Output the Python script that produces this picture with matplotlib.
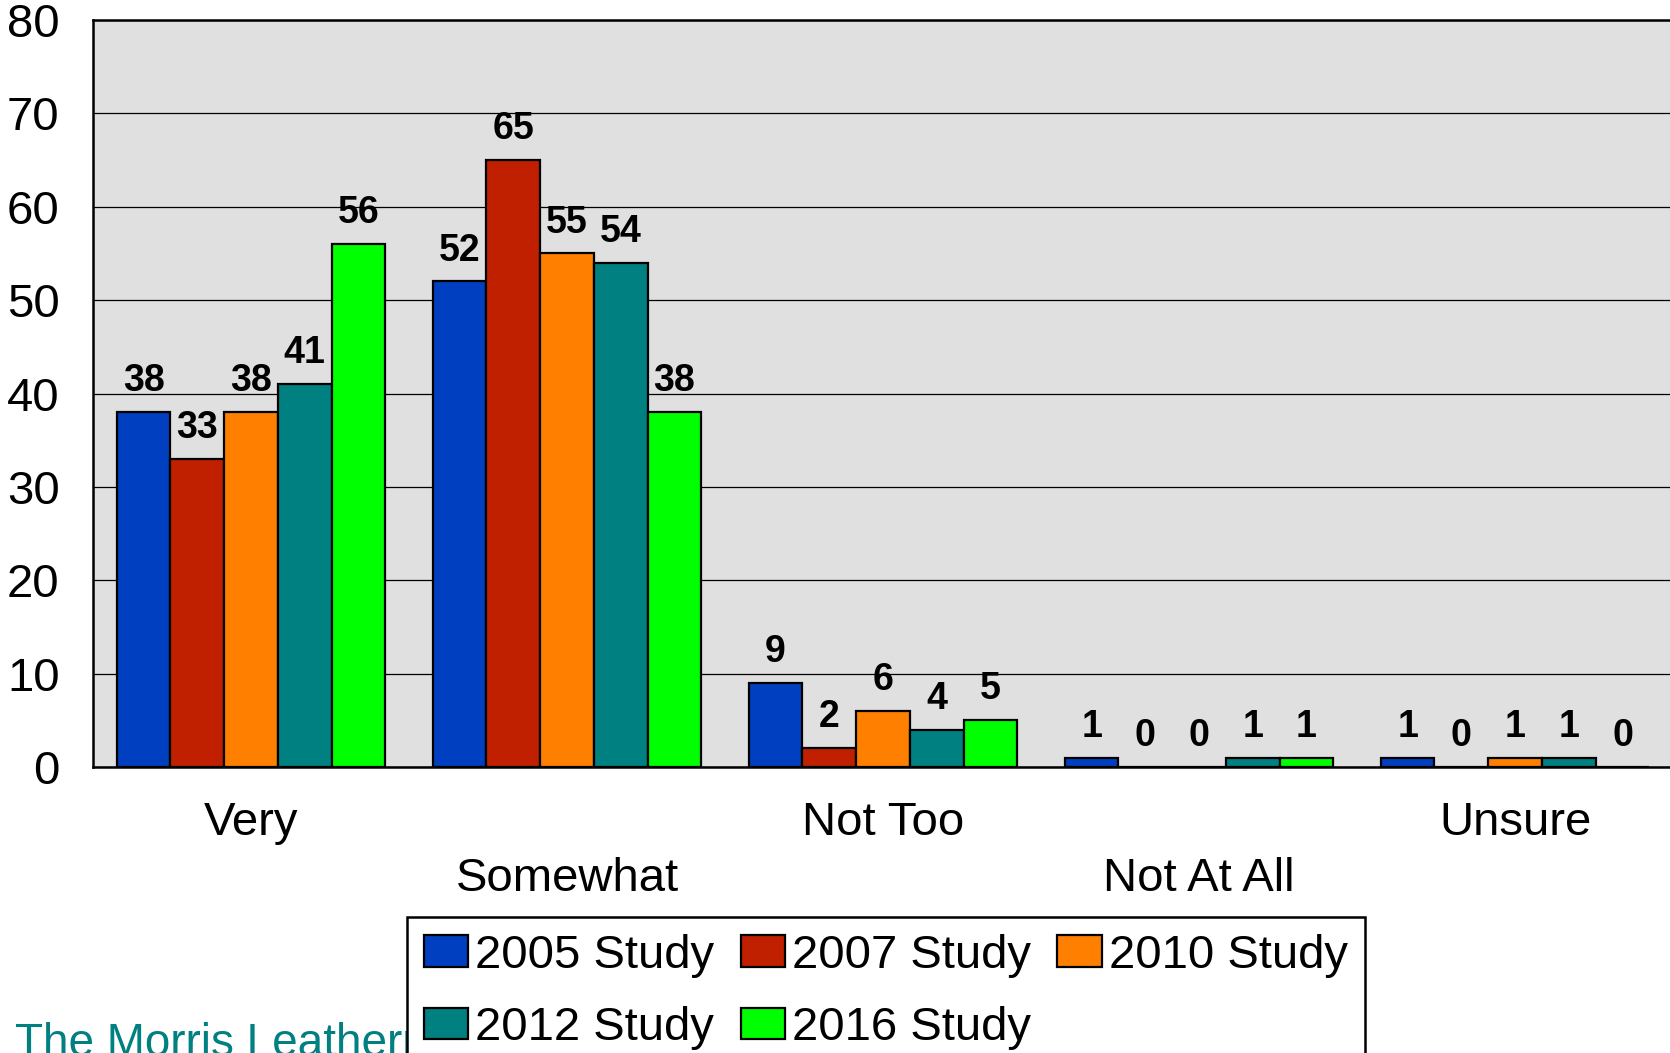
import numpy as np
import matplotlib.pyplot as plt

plt.rcParams['font.family'] = ['Liberation Sans', 'DejaVu Sans']

# data
categories = ["Very", "Somewhat", "Not Too", "Not At All", "Unsure"]
series_names = ["2005 Study", "2007 Study", "2010 Study", "2012 Study", "2016 Study"]
s2005 = [38, 52, 9, 1, 1]
s2007 = [33, 65, 2, 0, 0]
s2010 = [38, 55, 6, 0, 1]
s2012 = [41, 54, 4, 1, 1]
s2016 = [56, 38, 5, 1, 0]
colors = ["#0040C0", "#C02000", "#FF8000", "#008080", "#00FF00"]

values = [s2005, s2007, s2010, s2012, s2016]
x = np.arange(len(categories))
width = 0.17

fig = plt.figure(figsize=(16.7, 10.53), dpi=100)
ax = fig.add_axes([0.0557, 0.2716, 0.9461, 0.7094])
ax.set_facecolor("#E0E0E0")

handles = []
for i, (vals, name, c) in enumerate(zip(values, series_names, colors)):
    pos = x + (i - 2) * width
    b = ax.bar(pos, vals, width, color=c, edgecolor="black", linewidth=1.6,
               label=name, zorder=3)
    handles.append(b)
    for px, v in zip(pos, vals):
        ax.annotate(str(v), (px, v), xytext=(0, 15), textcoords="offset points",
                    ha="center", va="baseline", fontsize=27, fontweight="bold",
                    zorder=4)

ax.set_ylim(0, 80)
ax.set_xlim(-0.5, len(categories) - 0.5)
ax.set_yticks(range(0, 81, 10))
ax.yaxis.grid(True, color="black", linewidth=0.9, zorder=1)
ax.set_axisbelow(True)
ax.tick_params(axis="y", length=0, pad=24, labelsize=34)
ax.set_xticks([])
for side in ["left", "top", "bottom"]:
    ax.spines[side].set_linewidth(1.8)
ax.spines["right"].set_visible(False)

# staggered category labels
for i, cat in enumerate(categories):
    yy = -0.075 if i % 2 == 0 else -0.150
    ax.text(i, yy, cat, transform=ax.get_xaxis_transform(), ha="center",
            va="center", fontsize=34)

# footer (partly hidden behind legend)
fig.text(0.009, -0.003, "The Morris Leatherman Company", color="#008080",
         fontsize=33, ha="left", va="baseline")

order = [0, 3, 1, 4, 2]
leg = fig.legend([handles[k] for k in order], [series_names[k] for k in order],
                 ncol=3, loc="upper left", bbox_to_anchor=(0.2437, 0.129),
                 fontsize=34, frameon=True, fancybox=False, framealpha=1,
                 edgecolor="black", handlelength=0.95, handleheight=0.65,
                 handletextpad=0.15, columnspacing=0.55, borderpad=0.35,
                 labelspacing=0.6, borderaxespad=0)
leg.get_frame().set_linewidth(1.8)
leg.set_zorder(10)

fig.savefig("out.png", dpi=100)
